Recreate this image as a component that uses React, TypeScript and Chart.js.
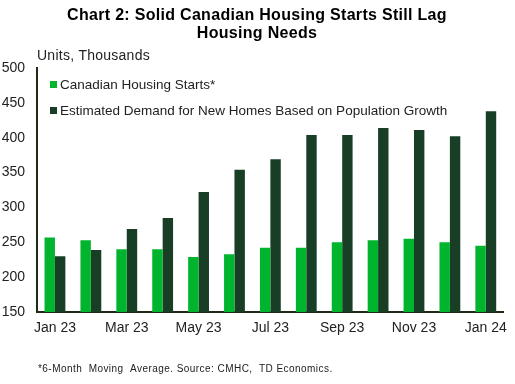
import React, { useEffect, useRef } from "react";
import { Chart, registerables } from "chart.js";

Chart.register(...registerables);

const categories = ["Jan 23", "Feb 23", "Mar 23", "Apr 23", "May 23", "Jun 23", "Jul 23", "Aug 23", "Sep 23", "Oct 23", "Nov 23", "Dec 23", "Jan 24"];
const housingStarts = [257, 253, 240, 240, 229, 233, 242, 242, 250, 253, 255, 250, 245];
const estimatedDemand = [230, 239, 269, 285, 322, 354, 369, 404, 404, 414, 411, 402, 438];
const seriesNames = ["Canadian Housing Starts*", "Estimated Demand for New Homes Based on Population Growth"];
const seriesColors = ["#00B42E", "#183F26"];
const titleLines = ["Chart 2: Solid Canadian Housing Starts Still Lag", "Housing Needs"];
const unitLabel = "Units, Thousands";
const footnote = "*6-Month  Moving  Average. Source: CMHC,  TD Economics.";

const FONT = "Arial, 'Liberation Sans', Helvetica, sans-serif";

const textPlugin = {
  id: "textPlugin",
  afterDraw(chart: any) {
    const ctx = chart.ctx;
    const ca = chart.chartArea;
    ctx.save();
    // title
    ctx.fillStyle = "#000";
    ctx.font = `bold 16px ${FONT}`;
    ctx.letterSpacing = "0.3px";
    ctx.textAlign = "center";
    ctx.textBaseline = "middle";
    ctx.fillText(titleLines[0], 257, 16);
    ctx.fillText(titleLines[1], 257, 34);
    // unit label
    ctx.font = `14px ${FONT}`;
    ctx.letterSpacing = "0.25px";
    ctx.fillStyle = "#222";
    ctx.textAlign = "left";
    ctx.fillText(unitLabel, 37, 56);
    // legend
    ctx.letterSpacing = "0px";
    const rows = [84, 110];
    chart.data.datasets.forEach((ds: any, i: number) => {
      ctx.fillStyle = ds.backgroundColor;
      ctx.fillRect(ca.left + 13, rows[i] - 3, 7, 7);
      ctx.fillStyle = "#222";
      ctx.font = `13.5px ${FONT}`;
      ctx.fillText(ds.label, ca.left + 23, rows[i] + 1);
    });
    // footnote
    ctx.font = `10px ${FONT}`;
    ctx.letterSpacing = "0.45px";
    ctx.fillStyle = "#222";
    ctx.fillText(footnote, 38, 369);
    ctx.restore();
  },
};

export default function App() {
  const ref = useRef<HTMLCanvasElement>(null);
  useEffect(() => {
    document.body.style.margin = "0";
    const chart = new Chart(ref.current as HTMLCanvasElement, {
      type: "bar",
      data: {
        labels: categories,
        datasets: [
          { label: seriesNames[0], data: housingStarts, backgroundColor: seriesColors[0], categoryPercentage: 0.58, barPercentage: 1.0 },
          { label: seriesNames[1], data: estimatedDemand, backgroundColor: seriesColors[1], categoryPercentage: 0.58, barPercentage: 1.0 },
        ],
      },
      options: {
        responsive: false,
        animation: false,
        layout: { padding: { top: 68, right: 5, left: 0, bottom: 0 } },
        plugins: { legend: { display: false }, title: { display: false }, tooltip: { enabled: false } },
        scales: {
          x: {
            grid: { display: false, drawTicks: false },
            border: { display: true, color: "#1E2A14", width: 2 },
            ticks: {
              autoSkip: false,
              maxRotation: 0,
              padding: 8,
              color: "#222",
              font: { family: FONT, size: 14 },
              callback: (_v: any, i: number) => (i % 2 === 0 ? categories[i] : ""),
            },
            afterFit: (s: any) => { s.height = 72; },
          },
          y: {
            min: 150,
            max: 500,
            grid: { display: false, drawTicks: false },
            border: { display: true, color: "#1E2A14", width: 2 },
            ticks: { stepSize: 50, padding: 12, color: "#222", font: { family: FONT, size: 14 } },
            afterFit: (s: any) => { s.width = 37; },
          },
        },
      },
      plugins: [textPlugin],
    });
    return () => chart.destroy();
  }, []);
  return (
    <div style={{ width: 515, height: 384 }}>
      <canvas ref={ref} width={515} height={384} style={{ width: 515, height: 384, display: "block" }} />
    </div>
  );
}
